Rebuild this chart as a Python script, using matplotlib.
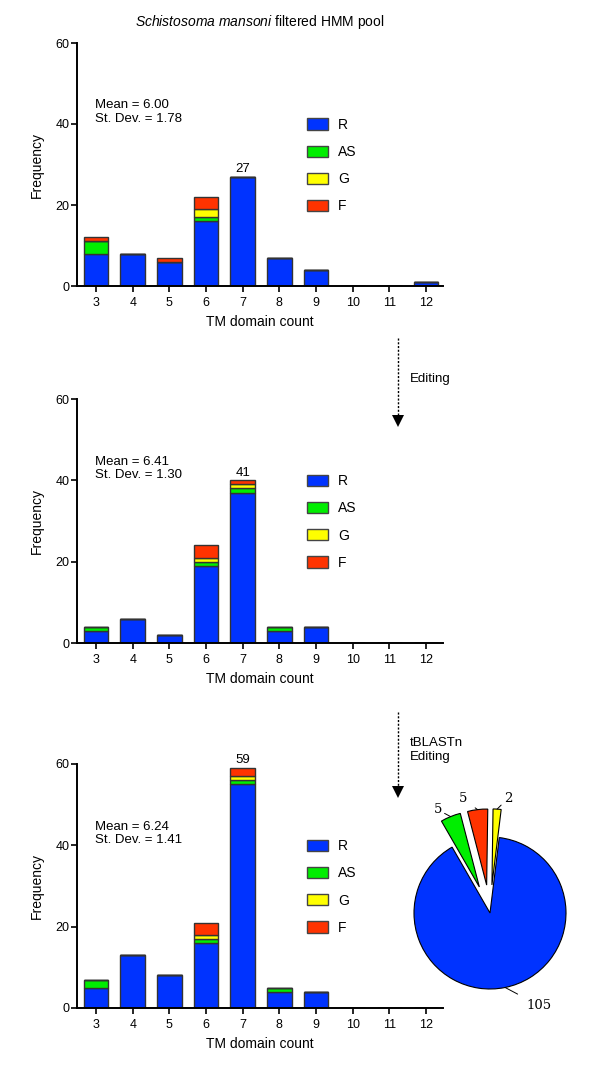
import numpy as np
import matplotlib.pyplot as plt
from matplotlib.patches import Patch

plt.rcParams['font.family'] = ['Liberation Sans', 'DejaVu Sans']
plt.rcParams['mathtext.fontset'] = 'custom'
plt.rcParams['mathtext.it'] = 'Liberation Sans:italic'
plt.rcParams['mathtext.rm'] = 'Liberation Sans'

tm_counts = [3, 4, 5, 6, 7, 8, 9, 10, 11, 12]

# filtered HMM pool
r1 = [8, 8, 6, 16, 27, 7, 4, 0, 0, 1]
as1 = [3, 0, 0, 1, 0, 0, 0, 0, 0, 0]
g1 = [0, 0, 0, 2, 0, 0, 0, 0, 0, 0]
f1 = [1, 0, 1, 3, 0, 0, 0, 0, 0, 0]

# after editing
r2 = [3, 6, 2, 19, 37, 3, 4, 0, 0, 0]
as2 = [1, 0, 0, 1, 1, 1, 0, 0, 0, 0]
g2 = [0, 0, 0, 1, 1, 0, 0, 0, 0, 0]
f2 = [0, 0, 0, 3, 1, 0, 0, 0, 0, 0]

# after tBLASTn + editing
r3 = [5, 13, 8, 16, 55, 4, 4, 0, 0, 0]
as3 = [2, 0, 0, 1, 1, 1, 0, 0, 0, 0]
g3 = [0, 0, 0, 1, 1, 0, 0, 0, 0, 0]
f3 = [0, 0, 0, 3, 2, 0, 0, 0, 0, 0]

peak_labels = ['27', '41', '59']
means = ['6.00', '6.41', '6.24']
sds = ['1.78', '1.30', '1.41']

series_names = ['R', 'AS', 'G', 'F']
colors = ['#0033FF', '#00EE00', '#FFFF00', '#FF3300']

# pie, counter-clockwise: G, F, AS, R
pie_values = [2, 5, 5, 105]
pie_labels = ['2', '5', '5', '105']
pie_colors = ['#FFFF00', '#FF3300', '#00EE00', '#0033FF']

W, H = 600, 1078
fig = plt.figure(figsize=(6, 10.78), dpi=100)


def px_axes(left, top, right, bottom):
    return fig.add_axes([left / W, 1 - bottom / H, (right - left) / W, (bottom - top) / H])


panels = [
    (43, 286, [r1, as1, g1, f1]),
    (399, 643, [r2, as2, g2, f2]),
    (764, 1008, [r3, as3, g3, f3]),
]

for i, (top, bottom, stacks) in enumerate(panels):
    ax = px_axes(77, top, 443, bottom)
    ax.patch.set_visible(False)
    base = np.zeros(len(tm_counts))
    for vals, c in zip(stacks, colors):
        vals = np.array(vals, dtype=float)
        ax.bar(tm_counts, vals, width=0.67, bottom=base, color=c,
               edgecolor='#333333', linewidth=1.0)
        base += vals
    k = tm_counts.index(7)
    ax.text(7, base[k] + 0.4, peak_labels[i], ha='center', va='bottom', fontsize=9.5)

    ax.set_xlim(2.48, 12.46)
    ax.set_ylim(0, 60)
    ax.set_xticks(tm_counts)
    ax.set_yticks([0, 20, 40, 60])
    for s in ['top', 'right']:
        ax.spines[s].set_visible(False)
    for s in ['left', 'bottom']:
        ax.spines[s].set_linewidth(1.4)
    ax.tick_params(axis='both', labelsize=9, width=1.2, length=4)
    ax.tick_params(axis='x', pad=4)
    ax.tick_params(axis='y', pad=1.5)
    ax.set_ylabel('Frequency', fontsize=10, labelpad=8)
    ax.set_xlabel('TM domain count', fontsize=10, labelpad=4)

    ax.text(0.049, 0.768, 'Mean = %s\nSt. Dev. = %s' % (means[i], sds[i]),
            transform=ax.transAxes, ha='left', va='top', fontsize=9.5, linespacing=1.15)

    handles = [Patch(facecolor=c, edgecolor='#444444', linewidth=1.0) for c in colors]
    ax.legend(handles, series_names, loc='upper left', bbox_to_anchor=(0.628, 0.692),
              frameon=False, fontsize=10, borderpad=0, borderaxespad=0,
              handlelength=1.5, handleheight=0.86, handletextpad=0.75, labelspacing=0.95)

    if i == 0:
        ax.set_title(r'$\mathit{Schistosoma\ mansoni}$ filtered HMM pool', fontsize=10, pad=12)

# overlay for arrows in pixel coords, drawn on top
ov = fig.add_axes([0, 0, 1, 1])
ov.set_xlim(0, W)
ov.set_ylim(H, 0)
ov.axis('off')
ov.set_zorder(10)

for y0, y1 in [(338, 418), (712, 789)]:
    ov.plot([398, 398], [y0, y1], color='black', linestyle=(0, (1.5, 1.2)), linewidth=1.0)
    ov.plot([398], [y1 + 3], marker='v', markersize=8, color='black', markeredgewidth=0)
ov.text(410, 379, 'Editing', ha='left', va='center', fontsize=9.5)
ov.text(410, 750, 'tBLASTn\nEditing', ha='left', va='center', fontsize=9.5, linespacing=1.15)

# pie chart: radius 1 == 76 px, centre at (490, 913)
pax = px_axes(400, 780, 590, 1040)
wedges, _ = pax.pie(pie_values, colors=pie_colors, startangle=83, radius=1,
                    explode=[0.37, 0.37, 0.37, 0.0],
                    wedgeprops=dict(edgecolor='black', linewidth=0.8))
pax.set_aspect('auto')
pax.set_xlim(-90 / 76, 100 / 76)
pax.set_ylim(-127 / 76, 133 / 76)
pax.axis('off')

offsets = [(11, 11), (-15, 11), (-13, 7), (34, -18)]
for w, lab, ex, off in zip(wedges, pie_labels, [0.37, 0.37, 0.37, 0.0], offsets):
    th = np.deg2rad((w.theta1 + w.theta2) / 2)
    xy = ((1 + ex) * np.cos(th), (1 + ex) * np.sin(th))
    pax.annotate(lab, xy=xy, xytext=off, textcoords='offset pixels',
                 ha='center', va='center', fontsize=9.5, family='DejaVu Serif',
                 arrowprops=dict(arrowstyle='-', color='black', linewidth=0.7,
                                 shrinkA=5, shrinkB=0))

fig.savefig('out.png', dpi=100)
